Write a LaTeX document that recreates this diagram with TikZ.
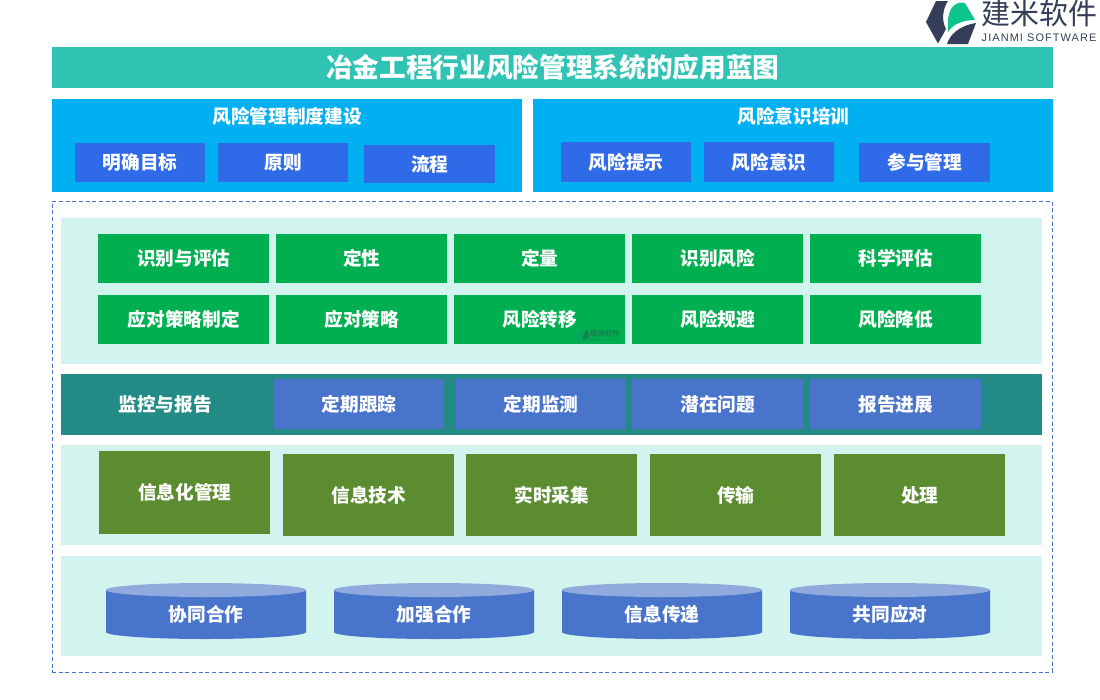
\documentclass[tikz,border=0pt]{standalone}
\usepackage{fontspec}
\setmainfont{Noto Sans CJK SC}
\newfontfamily\latinlogo{Liberation Sans}[LetterSpace=10]
\definecolor{titlec}{HTML}{2FC3B4}
\definecolor{skyc}{HTML}{00B0F0}
\definecolor{royalc}{HTML}{2F6BE8}
\definecolor{panelc}{HTML}{D2F4EF}
\definecolor{tealc}{HTML}{238B85}
\definecolor{greenc}{HTML}{00B050}
\definecolor{bluec}{HTML}{4874CB}
\definecolor{olivec}{HTML}{5B8C30}
\definecolor{capc}{HTML}{8FAADC}
\definecolor{logod}{HTML}{353E58}
\definecolor{logog}{HTML}{0CC58A}
\tikzset{
  x=0.75pt,y=-0.75pt,
  lbl/.style={inner sep=0pt,text=white,font=\fontsize{14}{16}\selectfont\bfseries},
  bx/.style 2 args={lbl,minimum width=#1*0.75pt,minimum height=#2*0.75pt,anchor=north west},
  greenbox/.style={bx={171}{49},fill=greenc},
  bluebox/.style={bx={171}{50},fill=bluec},
  olivebox/.style={bx={171}{82},fill=olivec},
  royalbox/.style={bx={130}{39},fill=royalc},
  cylbody/.style={fill=bluec},
  cylcap/.style={fill=capc},
}
\newcommand{\cyl}[3]{%
  \fill[cylbody] (#1,590) -- (#1+200,590) -- (#1+200,632) arc[start angle=0,end angle=180,x radius=100,y radius=7] -- cycle;
  \fill[cylcap] (#1+100,590) ellipse[x radius=100,y radius=7];
  \node[lbl,inner sep=0pt] (#2) at (#1+100,614) {#3};
}
\newcommand{\up}[1]{\raisebox{1.6pt}{#1}}
\begin{document}
\begin{tikzpicture}
\useasboundingbox (0,0) rectangle (1100,700);
\fill[white] (0,0) rectangle (1100,700);
% logo
\fill[logod] (936,1) -- (948,1) .. controls (943,8) and (941,20) .. (946,29) -- (938,43.5) -- (926,22) -- cycle;
\fill[logog] (948,32) .. controls (947,20) and (948,5) .. (960,2.5) -- (965,3) -- (975,20) .. controls (963,20) and (953,24) .. (948,32) -- cycle;
\fill[logod] (947,44) .. controls (950,35) and (958,26) .. (976,23) -- (968,44) -- cycle;
\node[inner sep=0pt,text=logod,font=\fontsize{21.7}{24}\selectfont] (logocn) at (1039.5,14) {建米软件};
\node[inner sep=0pt,text=logod,font=\latinlogo\fontsize{8.2}{10}\selectfont] (logoen) at (1039,38) {JIANMI SOFTWARE};
% title
\node[bx={1001}{41},fill=titlec,font=\fontsize{20}{24}\selectfont\bfseries] (title) at (52,47) {冶金工程行业风险管理系统的应用蓝图};
% top panels
\node[bx={470}{93},fill=skyc] (left) at (52,99) {};
\node[bx={520}{93},fill=skyc] (right) at (533,99) {};
\node[lbl] (leftl) at (287,116) {风险管理制度建设};
\node[lbl] (rightl) at (793.5,116) {风险意识培训};
\node[royalbox] (a1) at (75,143) {明确目标};
\node[royalbox] (a2) at (218,143) {原则};
\node[royalbox,minimum width=131*0.75pt,minimum height=38*0.75pt] (a3) at (364,145) {\up{流程}};
\node[royalbox,minimum height=40*0.75pt] (b1) at (561,142) {\up{风险提示}};
\node[royalbox,minimum height=40*0.75pt] (b2) at (704,142) {\up{风险意识}};
\node[royalbox,minimum width=131*0.75pt] (b3) at (859,143) {\raisebox{2.2pt}{参与管理}};
% dashed frame
\node[bx={1000}{471},draw=bluec,line width=0.6pt,dash pattern=on 3pt off 2pt] (frame) at (51.5,201) {};
% panels
\node[bx={981}{146},fill=panelc] (p1) at (61,218) {};
\node[bx={981}{61},fill=tealc] (p2) at (61,374) {};
\node[bx={981}{100},fill=panelc] (p3) at (61,445) {};
\node[bx={981}{100},fill=panelc] (p4) at (61,556) {};
% green
\node[greenbox] (g1) at (98,234) {识别与评估};
\node[greenbox] (g2) at (276,234) {定性};
\node[greenbox] (g3) at (454,234) {定量};
\node[greenbox] (g4) at (632,234) {识别风险};
\node[greenbox] (g5) at (810,234) {科学评估};
\node[greenbox] (g6) at (98,295) {应对策略制定};
\node[greenbox] (g7) at (276,295) {应对策略};
\node[greenbox] (g8) at (454,295) {风险转移};
\node[greenbox] (g9) at (632,295) {风险规避};
\node[greenbox] (g10) at (810,295) {风险降低};
% watermark
\begin{scope}[opacity=0.4]
\fill[tealc] (581,330) -- (584,330) .. controls (580,334) and (579,339) .. (581,341) -- (580,345) -- (576,337) -- cycle;
\fill[logod] (583,341) .. controls (582,335) and (584,331) .. (588,330) -- (589,337) -- cycle;
\node[inner sep=0pt,text=logod,font=\fontsize{5.6}{6}\selectfont\bfseries] (wm) at (605,334) {建米软件};
\node[inner sep=0pt,text=logod,font=\latinlogo\fontsize{2.4}{3}\selectfont] (wmen) at (605,340.5) {JIANMI SOFTWARE};
\end{scope}
% monitor
\node[lbl] (m0) at (165,404) {监控与报告};
\node[bluebox,minimum width=170*0.75pt] (m1) at (274,379) {定期跟踪};
\node[bluebox,minimum width=170*0.75pt] (m2) at (456,379) {定期监测};
\node[bluebox] (m3) at (632,379) {潜在问题};
\node[bluebox] (m4) at (810,379) {报告进展};
% olive
\node[olivebox,minimum height=83*0.75pt] (o1) at (99,451) {信息化管理};
\node[olivebox] (o2) at (283,454) {\up{信息技术}};
\node[olivebox] (o3) at (466,454) {\up{实时采集}};
\node[olivebox] (o4) at (650,454) {\up{传输}};
\node[olivebox] (o5) at (834,454) {\up{处理}};
% cylinders
\cyl{106}{c1}{协同合作}
\cyl{334}{c2}{加强合作}
\cyl{562}{c3}{信息传递}
\cyl{790}{c4}{共同应对}
\end{tikzpicture}
\end{document}
